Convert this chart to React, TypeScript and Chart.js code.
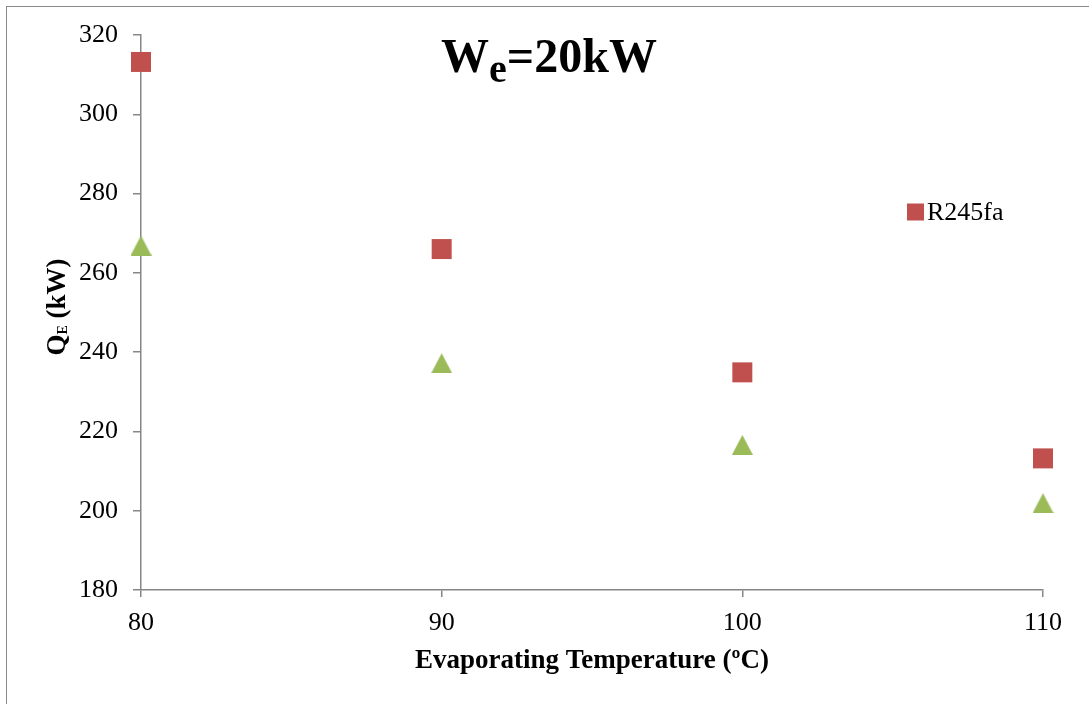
import React, { useEffect, useRef } from 'react';
import { Chart, registerables } from 'chart.js';

Chart.register(...registerables);

// ---- Data ----
const temperatures = [80, 90, 100, 110];
const r245faValues = [313.2, 266.0, 234.9, 213.2];
const secondSeriesValues = [266.9, 237.2, 216.6, 201.9];
const yTickValues = [180, 200, 220, 240, 260, 280, 300, 320];
const xTickValues = [80, 90, 100, 110];
const seriesNames = ['R245fa', 'Series 2'];
const titleParts = ['W', 'e', '=20kW'];
const yTitleParts = ['Q', 'E', ' (kW)'];
const xTitle = 'Evaporating Temperature (ºC)';

const FONT = '"Liberation Serif", "Times New Roman", serif';
const RED = '#C0504D';
const GREEN = '#9BBB59';
const AXIS = '#868686';

function makeTriangle(): HTMLCanvasElement {
  const c = document.createElement('canvas');
  c.width = 21;
  c.height = 20;
  const g = c.getContext('2d')!;
  g.fillStyle = GREEN;
  g.beginPath();
  g.moveTo(10.5, 0);
  g.lineTo(21, 20);
  g.lineTo(0, 20);
  g.closePath();
  g.fill();
  return c;
}

const overlayPlugin = {
  id: 'overlay',
  afterDraw(chart: any) {
    const ctx = chart.ctx as CanvasRenderingContext2D;
    ctx.save();
    ctx.fillStyle = '#000';
    ctx.textBaseline = 'alphabetic';
    ctx.textAlign = 'left';

    // Main title with subscript
    const big = 'bold 48px ' + FONT;
    const sub = 'bold 40px ' + FONT;
    ctx.font = big;
    const w1 = ctx.measureText(titleParts[0]).width;
    const w3 = ctx.measureText(titleParts[2]).width;
    ctx.font = sub;
    const w2 = ctx.measureText(titleParts[1]).width;
    let x = 549 - (w1 + w2 + w3) / 2;
    const y = 72;
    ctx.font = big;
    ctx.fillText(titleParts[0], x, y);
    x += w1;
    ctx.font = sub;
    ctx.fillText(titleParts[1], x, y + 10);
    x += w2;
    ctx.font = big;
    ctx.fillText(titleParts[2], x, y);

    // Y axis title (rotated) with subscript
    const yBig = 'bold 27px ' + FONT;
    const ySub = 'bold 14px ' + FONT;
    ctx.font = yBig;
    const q1 = ctx.measureText(yTitleParts[0]).width;
    const q3 = ctx.measureText(yTitleParts[2]).width;
    ctx.font = ySub;
    const q2 = ctx.measureText(yTitleParts[1]).width;
    ctx.translate(65, 307);
    ctx.rotate(-Math.PI / 2);
    let tx = -(q1 + q2 + q3) / 2;
    ctx.font = yBig;
    ctx.fillText(yTitleParts[0], tx, 0);
    tx += q1;
    ctx.font = ySub;
    ctx.fillText(yTitleParts[1], tx, 2);
    tx += q2;
    ctx.font = yBig;
    ctx.fillText(yTitleParts[2], tx, 0);
    ctx.setTransform(1, 0, 0, 1, 0, 0);

    // Legend (first series only)
    const ds = chart.data.datasets[0];
    ctx.fillStyle = ds.backgroundColor;
    ctx.fillRect(907, 203.5, 17, 17);
    ctx.fillStyle = '#000';
    ctx.font = '26px ' + FONT;
    ctx.fillText(ds.label, 927, 220);
    ctx.restore();
  },
};

export default function App() {
  const canvasRef = useRef<HTMLCanvasElement | null>(null);

  useEffect(() => {
    const canvas = canvasRef.current;
    if (!canvas) return;
    const triangle = makeTriangle();
    const chart = new Chart(canvas, {
      type: 'scatter',
      data: {
        datasets: [
          {
            label: seriesNames[0],
            data: temperatures.map((t, i) => ({ x: t, y: r245faValues[i] })),
            backgroundColor: RED,
            borderColor: RED,
            pointStyle: 'rect',
            pointRadius: 14.14,
            pointHoverRadius: 14.14,
            pointBorderWidth: 0,
            clip: false,
          },
          {
            label: seriesNames[1],
            data: temperatures.map((t, i) => ({ x: t, y: secondSeriesValues[i] })),
            backgroundColor: GREEN,
            borderColor: GREEN,
            pointStyle: triangle as any,
            pointRadius: 11,
            pointBorderWidth: 0,
            clip: false,
          },
        ],
      },
      options: {
        responsive: false,
        animation: false,
        events: [],
        layout: { padding: { left: 0, top: 35, right: 46, bottom: 0 }, autoPadding: false } as any,
        plugins: {
          legend: { display: false },
          title: { display: false },
          tooltip: { enabled: false },
        },
        scales: {
          x: {
            type: 'linear',
            min: 80,
            max: 110,
            afterBuildTicks: (s: any) => {
              s.ticks = xTickValues.map((v) => ({ value: v }));
            },
            afterFit: (s: any) => {
              s.height = 114;
            },
            border: { display: true, color: AXIS, width: 1.5 },
            grid: { display: true, drawOnChartArea: false, drawTicks: true, tickLength: 7, color: AXIS, lineWidth: 1.5 },
            ticks: {
              color: '#000',
              font: { family: FONT, size: 26 },
              padding: 11,
              maxRotation: 0,
            },
            title: {
              display: true,
              text: xTitle,
              color: '#000',
              font: { family: FONT, size: 27, weight: 'bold' },
              padding: { top: 0, bottom: 27 },
            },
          },
          y: {
            type: 'linear',
            min: 180,
            max: 320,
            afterBuildTicks: (s: any) => {
              s.ticks = yTickValues.map((v) => ({ value: v }));
            },
            afterFit: (s: any) => {
              s.width = 141;
            },
            border: { display: true, color: AXIS, width: 1.5 },
            grid: { display: true, drawOnChartArea: false, drawTicks: true, tickLength: 8, color: AXIS, lineWidth: 1.5 },
            ticks: {
              color: '#000',
              font: { family: FONT, size: 26 },
              padding: 15,
            },
          },
        },
      },
      plugins: [overlayPlugin],
    });
    return () => chart.destroy();
  }, []);

  return (
    <div style={{ position: 'fixed', left: 0, top: 0, width: 1089, height: 704, overflow: 'hidden', background: '#fff' }}>
      <div
        style={{
          position: 'absolute',
          left: 6,
          top: 6,
          width: 2000,
          height: 2000,
          borderLeft: '1px solid #8a8a8a',
          borderTop: '1px solid #8a8a8a',
        }}
      />
      <canvas ref={canvasRef} width={1089} height={704} style={{ position: 'absolute', left: 0, top: 0, display: 'block' }} />
    </div>
  );
}
